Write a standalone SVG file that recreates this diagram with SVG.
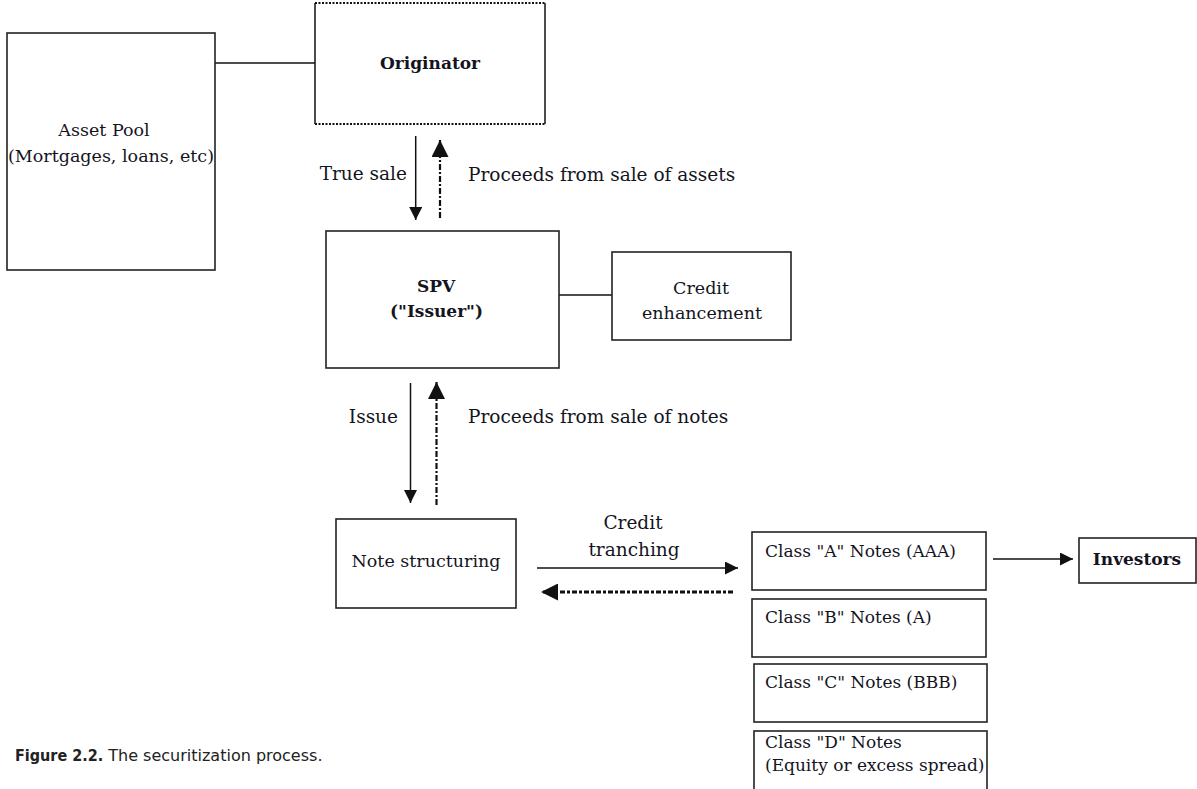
<svg xmlns="http://www.w3.org/2000/svg" width="1197" height="789" viewBox="0 0 1197 789">
<defs>
<style>
.box{fill:#fff;stroke:#222;stroke-width:1.6}
.t{font-family:"DejaVu Serif","Liberation Serif",serif;font-size:17.5px;fill:#14141e}
.e{font-family:"DejaVu Serif","Liberation Serif",serif;font-size:18.5px;fill:#14141e}
.c{font-family:"DejaVu Serif","Liberation Serif",serif;font-size:17px;fill:#14141e}
.b{font-family:"DejaVu Serif","Liberation Serif",serif;font-size:17px;font-weight:bold;fill:#14141e}
.m{text-anchor:middle}
.ln{fill:none;stroke:#111;stroke-width:1.5}
.dd{fill:none;stroke:#111;stroke-width:2.2;stroke-dasharray:6 2 2 2}
.dt{fill:none;stroke:#111;stroke-width:3;stroke-dasharray:5 2 3 2}
.cap{font-family:"DejaVu Sans","Liberation Sans",sans-serif;font-size:16px;fill:#222}
</style>
<marker id="as" markerUnits="userSpaceOnUse" markerWidth="13" markerHeight="13" refX="13" refY="6.5" orient="auto">
<path d="M0,0 L13,6.5 L0,13 z" fill="#111"/>
</marker>
<marker id="al" markerUnits="userSpaceOnUse" markerWidth="17" markerHeight="17" refX="17" refY="8.5" orient="auto">
<path d="M0,0 L17,8.5 L0,17 z" fill="#111"/>
</marker>
</defs>
<rect width="1197" height="789" fill="#fff"/>

<g id="connectors">
<line class="ln" x1="215" y1="63" x2="315" y2="63"/>
<line class="ln" x1="559" y1="295" x2="612" y2="295"/>
<line class="ln" x1="415.7" y1="136" x2="415.7" y2="220" marker-end="url(#as)"/>
<line class="dd" x1="440" y1="218" x2="440" y2="140" marker-end="url(#al)"/>
<line class="ln" x1="410.5" y1="383" x2="410.5" y2="503" marker-end="url(#as)"/>
<line class="dd" x1="436.5" y1="505" x2="436.5" y2="382" marker-end="url(#al)"/>
<line class="ln" x1="537" y1="568" x2="738" y2="568" marker-end="url(#as)"/>
<line class="dt" x1="733" y1="592" x2="541" y2="592" marker-end="url(#al)"/>
<line class="ln" x1="993" y1="559" x2="1073" y2="559" marker-end="url(#as)"/>
<text class="e" x="407" y="180" text-anchor="end">True sale</text>
<text class="e" x="468" y="181">Proceeds from sale of assets</text>
<text class="e" x="398" y="423" text-anchor="end">Issue</text>
<text class="e" x="468" y="423">Proceeds from sale of notes</text>
<text class="e m" x="633" y="529">Credit</text>
<text class="e m" x="634" y="556">tranching</text>
</g>

<g id="asset-pool">
<rect class="box" x="7" y="33" width="208" height="237"/>
<text class="t m" x="104" y="136">Asset Pool</text>
<text class="t m" x="111" y="162">(Mortgages, loans, etc)</text>
</g>

<g id="originator">
<rect x="315" y="3" width="230" height="121" fill="#fff"/>
<line x1="315" y1="3" x2="545" y2="3" stroke="#111" stroke-width="2.2" stroke-dasharray="2 1.5"/>
<line x1="315" y1="124" x2="545" y2="124" stroke="#111" stroke-width="2.2" stroke-dasharray="2 1.5"/>
<line class="ln" x1="315" y1="3" x2="315" y2="124"/>
<line class="ln" x1="545" y1="3" x2="545" y2="124"/>
<text class="b m" x="430" y="69">Originator</text>
</g>

<g id="spv">
<rect class="box" x="326" y="231" width="233" height="137"/>
<text class="b m" x="436" y="292">SPV</text>
<text class="b m" x="436.5" y="317">("Issuer")</text>
</g>

<g id="credit-enhancement">
<rect class="box" x="612" y="252" width="179" height="88"/>
<text class="t m" x="701" y="294">Credit</text>
<text class="t m" x="702" y="319">enhancement</text>
</g>

<g id="note-structuring">
<rect class="box" x="336" y="519" width="180" height="89"/>
<text class="t m" x="426" y="567">Note structuring</text>
</g>

<g id="class-a">
<rect class="box" x="752" y="532" width="234" height="58"/>
<text class="c" x="765" y="557">Class "A" Notes (AAA)</text>
</g>

<g id="class-b">
<rect class="box" x="752" y="599" width="234" height="58"/>
<text class="c" x="765" y="623">Class "B" Notes (A)</text>
</g>

<g id="class-c">
<rect class="box" x="754" y="664" width="233" height="58"/>
<text class="c" x="765" y="688">Class "C" Notes (BBB)</text>
</g>

<g id="class-d">
<rect class="box" x="754" y="731" width="233" height="62"/>
<text class="c" x="765" y="748">Class "D" Notes</text>
<text class="c" x="765" y="771">(Equity or excess spread)</text>
</g>

<g id="investors">
<rect class="box" x="1079" y="538" width="117" height="45"/>
<text class="b m" x="1137" y="565">Investors</text>
</g>

<g id="caption">
<text class="cap" x="15" y="761"><tspan font-weight="bold" font-family="DejaVu Sans Condensed, DejaVu Sans, sans-serif">Figure 2.2.</tspan> The securitization process.</text>
</g>
</svg>
